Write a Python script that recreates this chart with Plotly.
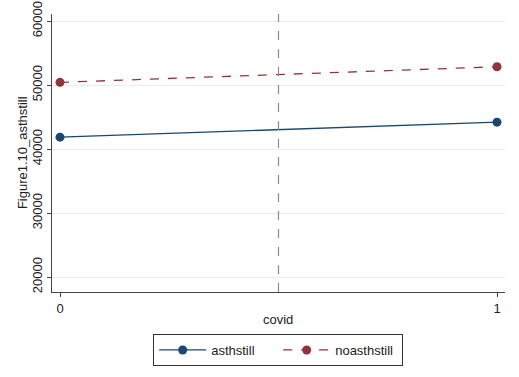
import plotly.graph_objects as go

covid = [0, 1]
asthstill = [41850, 44200]
noasthstill = [50420, 52860]
yticks = [20000, 30000, 40000, 50000, 60000]
ytick_labels = ["20000", "30000", "40000", "50000", "60000"]
xticks = [0, 1]
xtick_labels = ["0", "1"]
xline = 0.5

fig = go.Figure()
fig.add_trace(go.Scatter(x=covid, y=asthstill, mode="lines+markers", name="asthstill",
                         line=dict(color="#1a476f", width=1.3),
                         marker=dict(color="#1a476f", size=9)))
fig.add_trace(go.Scatter(x=covid, y=noasthstill, mode="lines+markers", name="noasthstill",
                         line=dict(color="#90353b", width=1.3, dash="dash"),
                         marker=dict(color="#90353b", size=9)))
fig.add_vline(x=xline, line=dict(color="#8a8a8a", width=1.2, dash="dash"))

fig.add_annotation(text="Figure1.10_asthstill", xref="paper", yref="paper",
                   x=-0.066, y=0.5, textangle=-90, showarrow=False,
                   xanchor="center", yanchor="middle", font=dict(size=13))
fig.add_annotation(text="covid", xref="paper", yref="paper",
                   x=0.499, y=-0.1007, showarrow=False,
                   xanchor="center", yanchor="middle", font=dict(size=13))

fig.update_layout(
    width=519, height=377,
    margin=dict(l=52, r=14, t=14, b=85),
    paper_bgcolor="white", plot_bgcolor="white",
    font=dict(family="Liberation Sans, Arial, sans-serif", size=13, color="#222"),
    showlegend=True,
    legend=dict(orientation="h", xref="container", yref="container",
                x=0.536, xanchor="center", y=0.114, yanchor="top",
                bordercolor="#333", borderwidth=1, font=dict(size=13),
                itemwidth=47, entrywidth=62, tracegroupgap=0),
    xaxis=dict(range=[-0.0183, 1.0183], tickvals=xticks, ticktext=xtick_labels,
               ticks="outside", ticklen=4, automargin=False,
               showline=True, linecolor="#444", linewidth=1, showgrid=False, zeroline=False),
    yaxis=dict(range=[17660, 61100], tickvals=yticks, ticktext=ytick_labels,
               ticks="outside", ticklen=4, automargin=False,
               tickangle=-90, showline=True, linecolor="#444", linewidth=1,
               showgrid=True, gridcolor="#ececec", zeroline=False),
)
fig.write_html("out.html", config={"displayModeBar": False},
               post_script="document.body.style.margin='0';")
